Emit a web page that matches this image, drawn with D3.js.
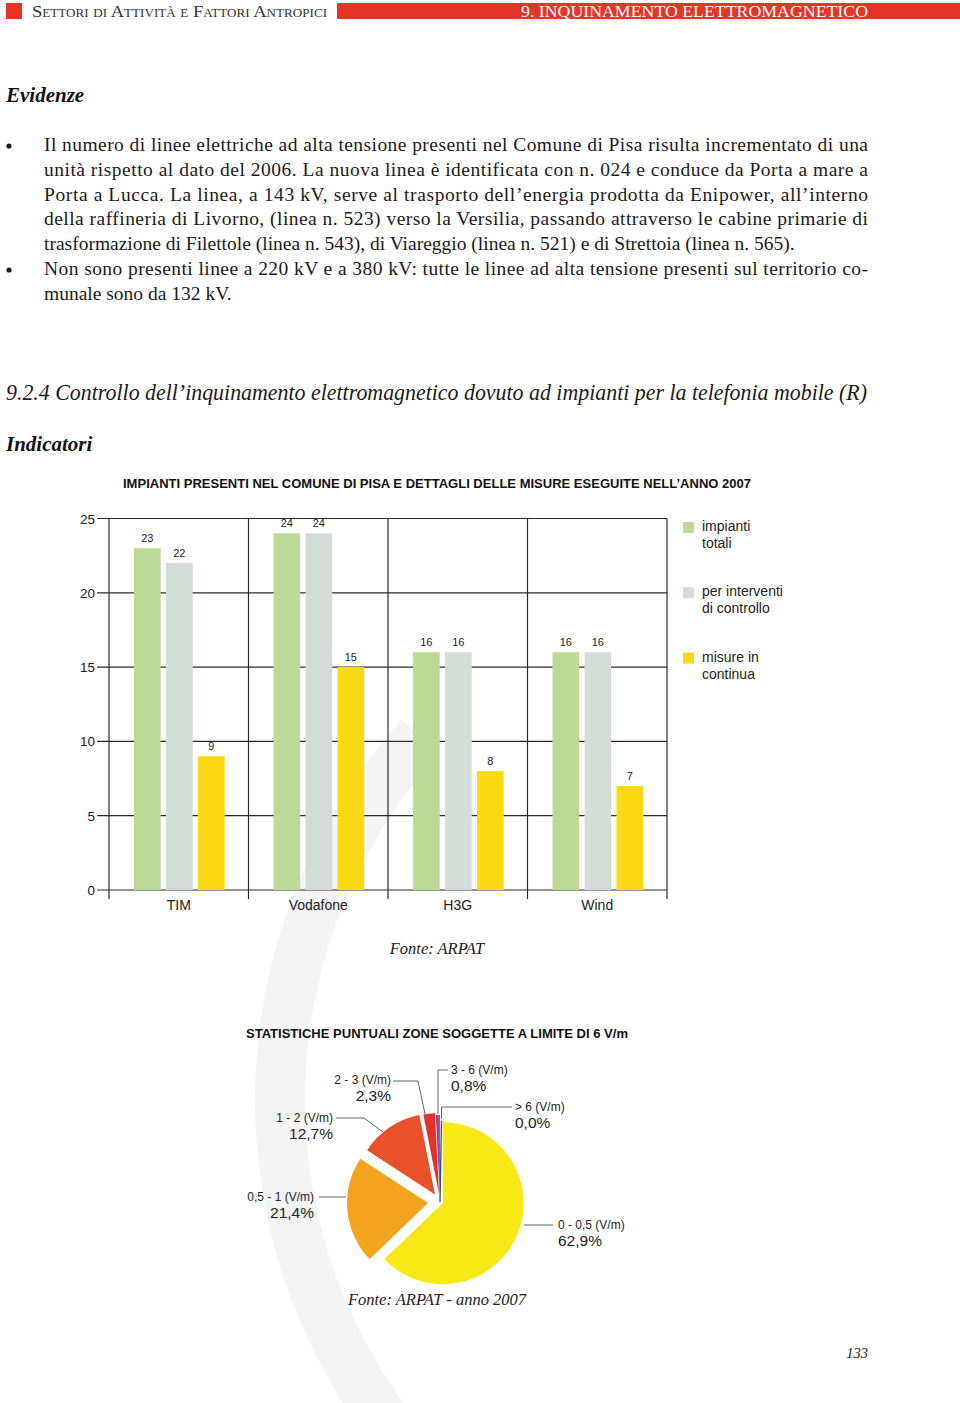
<!DOCTYPE html>
<html>
<head>
<meta charset="utf-8">
<script src="https://cdn.jsdelivr.net/npm/d3@7"></script>
<style>
  body { margin: 0; background: #fff; }
  svg { display: block; }
</style>
</head>
<body>
<div id="page"></div>
<script>
// ---- data ----
const operators = ["TIM", "Vodafone", "H3G", "Wind"];
const seriesNames = [["impianti", "totali"], ["per interventi", "di controllo"], ["misure in", "continua"]];
const impiantiTotali = [23, 24, 16, 16];
const interventiControllo = [22, 24, 16, 16];
const misureContinua = [9, 15, 8, 7];
const yTicks = [0, 5, 10, 15, 20, 25];

const fieldRanges = ["0 - 0,5 (V/m)", "0,5 - 1 (V/m)", "1 - 2 (V/m)", "2 - 3 (V/m)", "3 - 6 (V/m)", "> 6 (V/m)"];
const fieldShares = [62.9, 21.4, 12.7, 2.3, 0.8, 0.0];
const fieldLabels = ["62,9%", "21,4%", "12,7%", "2,3%", "0,8%", "0,0%"];

const bodyLines = [
  "Il numero di linee elettriche ad alta tensione presenti nel Comune di Pisa risulta incrementato di una",
  "unità rispetto al dato del 2006. La nuova linea è identificata con n. 024 e conduce da Porta a mare a",
  "Porta a Lucca. La linea, a 143 kV, serve al trasporto dell’energia prodotta da Enipower, all’interno",
  "della raffineria di Livorno, (linea n. 523) verso la Versilia, passando attraverso le cabine primarie di",
  "trasformazione di Filettole (linea n. 543), di Viareggio (linea n. 521) e di Strettoia (linea n. 565).",
  "Non sono presenti linee a 220 kV e a 380 kV: tutte le linee ad alta tensione presenti sul territorio co-",
  "munale sono da 132 kV."
];

const barColors = ["#bcd995", "#d3dcd6", "#fbda14"];
const pieColors = ["#f8e816", "#f3a41f", "#e8512a", "#e1332b", "#a0458a", "#2b4d8c"];

const serif = "'Liberation Serif', 'Times New Roman', serif";
const sans = "'Liberation Sans', Arial, Helvetica, sans-serif";

const svg = d3.select("#page").append("svg")
    .attr("width", 960)
    .attr("height", 1403);

// faint watermark swoosh
svg.append("path")
    .attr("transform", "translate(820,1100)")
    .attr("d", d3.arc()({innerRadius: 515, outerRadius: 565, startAngle: 3.55, endAngle: 5.45}))
    .attr("fill", "#f4f4f4");

// ---- header ----
svg.append("rect").attr("x", 6).attr("y", 3).attr("width", 16).attr("height", 16).attr("fill", "#e63426");
svg.append("text")
    .attr("x", 32).attr("y", 17)
    .attr("font-family", serif).attr("font-size", 17)
    .style("font-variant", "small-caps")
    .attr("fill", "#333")
    .attr("textLength", 295).attr("lengthAdjust", "spacingAndGlyphs")
    .text("Settori di Attività e Fattori Antropici");
svg.append("rect").attr("x", 337).attr("y", 3).attr("width", 623).attr("height", 16).attr("fill", "#e63426");
svg.append("text")
    .attr("x", 521).attr("y", 17)
    .attr("font-family", serif).attr("font-size", 17)
    .attr("fill", "#fff")
    .attr("textLength", 347).attr("lengthAdjust", "spacingAndGlyphs")
    .text("9. INQUINAMENTO ELETTROMAGNETICO");

// ---- text block ----
svg.append("text")
    .attr("x", 6).attr("y", 102)
    .attr("font-family", serif).attr("font-size", 21)
    .attr("font-weight", "bold").attr("font-style", "italic")
    .attr("fill", "#111")
    .text("Evidenze");

const justified = [true, true, true, true, false, true, false];
svg.append("g").selectAll("text")
    .data(bodyLines)
    .join("text")
    .attr("x", 44)
    .attr("y", (d, i) => 151 + i * 24.8)
    .attr("font-family", serif).attr("font-size", 19.5)
    .attr("fill", "#1a1a1a")
    .each(function (d, i) {
      if (justified[i]) d3.select(this).attr("textLength", 824).attr("lengthAdjust", "spacing");
    })
    .text(d => d);

[0, 5].forEach(i => {
  svg.append("circle").attr("cx", 9).attr("cy", 146 + i * 24.8).attr("r", 2.6).attr("fill", "#1a1a1a");
});

svg.append("text")
    .attr("x", 6).attr("y", 400)
    .attr("font-family", serif).attr("font-size", 23)
    .attr("font-style", "italic").attr("fill", "#1a1a1a")
    .attr("textLength", 861).attr("lengthAdjust", "spacingAndGlyphs")
    .text("9.2.4 Controllo dell’inquinamento elettromagnetico dovuto ad impianti per la telefonia mobile (R)");

svg.append("text")
    .attr("x", 6).attr("y", 451)
    .attr("font-family", serif).attr("font-size", 21)
    .attr("font-weight", "bold").attr("font-style", "italic")
    .attr("fill", "#111")
    .text("Indicatori");

// ---- bar chart ----
svg.append("text")
    .attr("x", 123).attr("y", 488)
    .attr("font-family", sans).attr("font-size", 12).attr("font-weight", "bold")
    .attr("fill", "#111")
    .attr("textLength", 628).attr("lengthAdjust", "spacingAndGlyphs")
    .text("IMPIANTI PRESENTI NEL COMUNE DI PISA E DETTAGLI DELLE MISURE ESEGUITE NELL’ANNO 2007");

const x0 = d3.scaleBand().domain(operators).range([109, 667]);
const x1 = d3.scaleBand().domain([0, 1, 2]).range([25, 115.7]).paddingInner(0.166);
const y = d3.scaleLinear().domain([0, 25]).range([890, 518.5]);

const bars = svg.append("g");

// horizontal grid + ticks
bars.selectAll(".hgrid")
    .data(yTicks)
    .join("line")
    .attr("x1", 97).attr("x2", 667)
    .attr("y1", d => y(d)).attr("y2", d => y(d))
    .attr("stroke", "#2a2a2a").attr("stroke-width", 1.2);

bars.selectAll(".ylab")
    .data(yTicks)
    .join("text")
    .attr("x", 95).attr("y", d => y(d) + 5)
    .attr("text-anchor", "end")
    .attr("font-family", sans).attr("font-size", 13.5)
    .attr("fill", "#222")
    .text(d => d);

// vertical grid
const vx = operators.map(d => x0(d)).concat([x0.range()[1]]);
bars.selectAll(".vgrid")
    .data(vx)
    .join("line")
    .attr("x1", d => d).attr("x2", d => d)
    .attr("y1", y(25)).attr("y2", y(0) + 9)
    .attr("stroke", "#2a2a2a").attr("stroke-width", 1.2);

const seriesValues = [impiantiTotali, interventiControllo, misureContinua];
const barData = [];
operators.forEach((op, i) => {
  seriesValues.forEach((vals, s) => barData.push({op: op, s: s, v: vals[i]}));
});

bars.selectAll(".bar")
    .data(barData)
    .join("rect")
    .attr("x", d => x0(d.op) + x1(d.s))
    .attr("width", x1.bandwidth())
    .attr("y", d => y(d.v))
    .attr("height", d => y(0) - y(d.v))
    .attr("fill", d => barColors[d.s]);

bars.selectAll(".val")
    .data(barData)
    .join("text")
    .attr("x", d => x0(d.op) + x1(d.s) + x1.bandwidth() / 2)
    .attr("y", d => y(d.v) - 6)
    .attr("text-anchor", "middle")
    .attr("font-family", sans).attr("font-size", 11)
    .attr("fill", "#222")
    .text(d => d.v);

bars.selectAll(".cat")
    .data(operators)
    .join("text")
    .attr("x", d => x0(d) + x0.bandwidth() / 2)
    .attr("y", 910)
    .attr("text-anchor", "middle")
    .attr("font-family", sans).attr("font-size", 14)
    .attr("fill", "#222")
    .text(d => d);

// legend
const legend = svg.append("g").attr("transform", "translate(683,522)");
const lg = legend.selectAll("g")
    .data(seriesNames)
    .join("g")
    .attr("transform", (d, i) => `translate(0,${i * 65.3})`);
lg.append("rect").attr("width", 11).attr("height", 11).attr("fill", (d, i) => barColors[i]);
lg.append("text")
    .attr("x", 19).attr("y", 9)
    .attr("font-family", sans).attr("font-size", 14).attr("fill", "#222")
    .selectAll("tspan")
    .data(d => d)
    .join("tspan")
    .attr("x", 19)
    .attr("dy", (d, i) => i === 0 ? 0 : 17)
    .text(d => d);

svg.append("text")
    .attr("x", 437).attr("y", 954)
    .attr("text-anchor", "middle")
    .attr("font-family", serif).attr("font-size", 16.5).attr("font-style", "italic")
    .attr("fill", "#222")
    .text("Fonte: ARPAT");

// ---- pie chart ----
svg.append("text")
    .attr("x", 246).attr("y", 1038)
    .attr("font-family", sans).attr("font-size", 13).attr("font-weight", "bold")
    .attr("fill", "#111")
    .attr("textLength", 382).attr("lengthAdjust", "spacingAndGlyphs")
    .text("STATISTICHE PUNTUALI ZONE SOGGETTE A LIMITE DI 6 V/m");

const cx = 440, cy = 1202, R = 81;
const explode = [3, 12, 9, 8, 6, 2];
const pie = d3.pie().sort(null).value(d => d)(fieldShares);
const arc = d3.arc().innerRadius(0).outerRadius(R);

const pg = svg.append("g").attr("transform", `translate(${cx},${cy})`);
pg.selectAll("path")
    .data(pie)
    .join("path")
    .attr("transform", (d, i) => {
      const a = (d.startAngle + d.endAngle) / 2;
      return `translate(${Math.sin(a) * explode[i]},${-Math.cos(a) * explode[i]})`;
    })
    .attr("d", d => d.endAngle > d.startAngle ? arc(d) : null)
    .attr("fill", (d, i) => pieColors[i]);

// zero slice drawn as a thin line
pie.filter(d => d.value === 0).forEach(d => {
  const i = d.index;
  pg.append("line")
      .attr("x1", Math.sin(d.startAngle) * 2).attr("y1", 0)
      .attr("x2", Math.sin(d.startAngle) * R + 1.5).attr("y2", -Math.cos(d.startAngle) * R)
      .attr("stroke", pieColors[i]).attr("stroke-width", 1.3);
});

// label layout (annotation positions)
const pieLabelPos = [
  {x: 558, y: 1229, anchor: "start", lead: [[524, 1225], [553, 1225]]},
  {x: 314, y: 1201, anchor: "end", lead: [[319, 1197], [346, 1197]]},
  {x: 333, y: 1122, anchor: "end", lead: [[336, 1118], [364, 1118], [383, 1132]]},
  {x: 391, y: 1084, anchor: "end", lead: [[393, 1081], [418, 1081], [425, 1114]]},
  {x: 451, y: 1074, anchor: "start", lead: [[448, 1070], [438, 1070], [438, 1114]]},
  {x: 515, y: 1111, anchor: "start", lead: [[512, 1107], [441.5, 1107], [441.5, 1119]]}
];

const labels = svg.append("g");
pieLabelPos.forEach((p, i) => {
  labels.append("path")
      .attr("d", d3.line()(p.lead))
      .attr("fill", "none").attr("stroke", "#555").attr("stroke-width", 0.9);
  labels.append("text")
      .attr("x", p.x).attr("y", p.y)
      .attr("text-anchor", p.anchor)
      .attr("font-family", sans).attr("font-size", 12).attr("fill", "#222")
      .text(fieldRanges[i]);
  labels.append("text")
      .attr("x", p.x).attr("y", p.y + 16.5)
      .attr("text-anchor", p.anchor)
      .attr("font-family", sans).attr("font-size", 15.5).attr("fill", "#222")
      .text(fieldLabels[i]);
});

svg.append("text")
    .attr("x", 437).attr("y", 1305)
    .attr("text-anchor", "middle")
    .attr("font-family", serif).attr("font-size", 16.5).attr("font-style", "italic")
    .attr("fill", "#222")
    .text("Fonte: ARPAT - anno 2007");

svg.append("text")
    .attr("x", 868).attr("y", 1358)
    .attr("text-anchor", "end")
    .attr("font-family", serif).attr("font-size", 14.5).attr("font-style", "italic")
    .attr("fill", "#222")
    .text("133");
</script>
</body>
</html>
